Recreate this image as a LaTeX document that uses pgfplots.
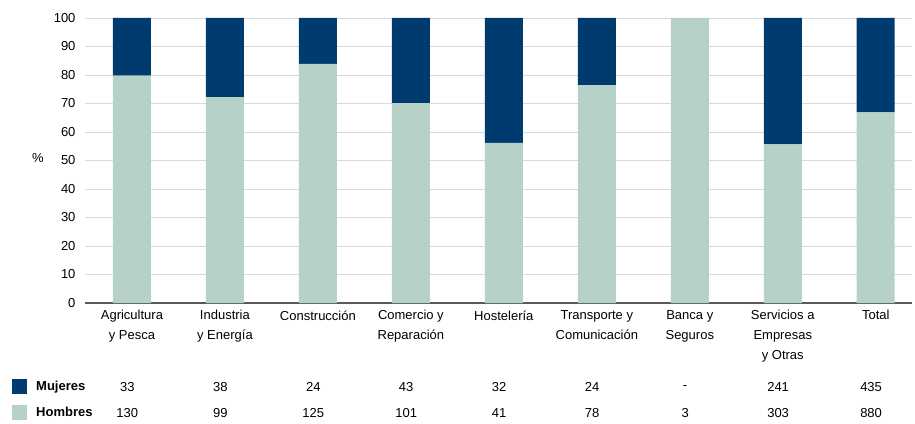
\documentclass[border=0pt]{standalone}
\usepackage{fontspec}
\setmainfont{Liberation Sans}
\usepackage{pgfplots}
\pgfplotsset{compat=1.18}
\usepackage{pgfplotstable}

\definecolor{mujeres}{RGB}{0,59,111}
\definecolor{hombres}{RGB}{181,209,200}
\definecolor{gridgray}{RGB}{217,217,217}
\definecolor{axisgray}{RGB}{89,89,89}

% porcentaje por sector
\pgfplotstableread{
x hombres mujeres
0 79.75 20.25
1 72.26 27.74
2 83.89 16.11
3 70.14 29.86
4 56.16 43.84
5 76.47 23.53
6 100.00 0.00
7 55.70 44.30
8 66.92 33.08
}\pct

% numero de personas (fila de la tabla)
\pgfplotstableread{
x y t
-0.05 -29.5 33
0.95 -29.5 38
1.95 -29.5 24
2.95 -29.5 43
3.95 -29.5 32
4.95 -29.5 24
5.95 -29.5 -
6.95 -29.5 241
7.95 -29.5 435
-0.05 -38.6 130
0.95 -38.6 99
1.95 -38.6 125
2.95 -38.6 101
3.95 -38.6 41
4.95 -38.6 78
5.95 -38.6 3
6.95 -38.6 303
7.95 -38.6 880
}\counts

\begin{document}
\begin{tikzpicture}[font=\fontsize{13}{16}\selectfont]
\path[use as bounding box] (-85pt,-120pt) rectangle (830pt,303pt);
\begin{axis}[
  width=827pt, height=285pt, scale only axis,
  xmin=-0.505, xmax=8.39, ymin=0, ymax=100,
  ybar stacked, bar width=38pt,
  ytick={0,10,...,100},
  /pgf/number format/assume math mode=true,
  ymajorgrids, grid style={gridgray, line width=0.8pt},
  axis lines*=left,
  x axis line style={axisgray, line width=1.6pt},
  y axis line style={draw=none},
  major tick length=0pt,
  xtick={0,...,8},
  xticklabels={{Agricultura\\y Pesca},{Industria\\y Energía},Construcción,
    {Comercio y\\Reparación},Hostelería,{Transporte y\\Comunicación},
    {Banca y\\Seguros},{Servicios a\\Empresas\\y Otras},Total},
  xticklabel style={align=center, font=\fontsize{13}{20}\selectfont, yshift=-4pt},
  yticklabel style={xshift=-6pt, font=\fontsize{13}{16}\selectfont},
  ylabel={\%},
  every axis y label/.style={at={(axis description cs:-0.057,0.51)}, anchor=center},
  reverse legend,
  legend cell align=left,
  legend image code/.code={\fill[#1] (0pt,-7.5pt) rectangle (15pt,7.5pt);
    \path (22pt,0pt);},
  legend style={at={(axis description cs:-0.0883,-0.2667)}, anchor=north west,
    draw=none, fill=none, inner sep=0pt, row sep=11pt,
    font=\fontsize{13}{16}\selectfont\bfseries},
]
\addplot[fill=hombres, draw=none] table[x=x, y=hombres] {\pct};
\addlegendentry{Hombres}
\addplot[fill=mujeres, draw=none] table[x=x, y=mujeres] {\pct};
\addlegendentry{Mujeres}
\end{axis}
\begin{axis}[
  width=827pt, height=285pt, scale only axis,
  xmin=-0.505, xmax=8.39, ymin=0, ymax=100,
  hide axis, clip=false,
]
\addplot[draw=none, mark=none, nodes near coords, point meta=explicit symbolic,
  nodes near coords align={center}] table[x=x, y=y, meta=t] {\counts};
\end{axis}
\end{tikzpicture}
\end{document}
